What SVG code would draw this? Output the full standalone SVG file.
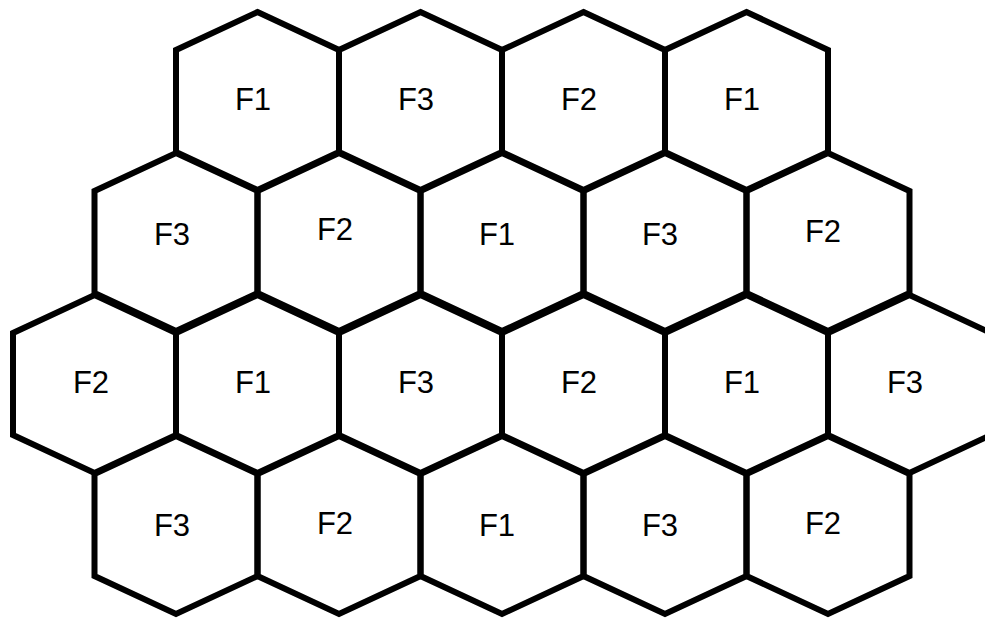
<svg xmlns="http://www.w3.org/2000/svg" width="985" height="619" viewBox="0 0 985 619">
<style>
.hex{fill:none;stroke:#000;stroke-width:6;stroke-linejoin:miter}
.lbl{font-family:"Liberation Sans",Arial,sans-serif;font-size:31px;fill:#000;text-anchor:middle}
</style>
<defs>
<polygon id="h" points="0,-89 81.5,-51 81.5,51 0,89 -81.5,51 -81.5,-51"/>
</defs>
<rect width="985" height="619" fill="#fff"/>
<g id="connectors"></g>
<!-- Row 1 -->
<g id="r1c1"><use href="#h" class="hex" x="257.5" y="101"/><text class="lbl" x="253" y="110">F1</text></g>
<g id="r1c2"><use href="#h" class="hex" x="420.5" y="101"/><text class="lbl" x="416" y="110">F3</text></g>
<g id="r1c3"><use href="#h" class="hex" x="583.5" y="101"/><text class="lbl" x="579" y="110">F2</text></g>
<g id="r1c4"><use href="#h" class="hex" x="746.5" y="101"/><text class="lbl" x="742" y="110">F1</text></g>
<!-- Row 2 -->
<g id="r2c1"><use href="#h" class="hex" x="176" y="242"/><text class="lbl" x="172" y="245">F3</text></g>
<g id="r2c2"><use href="#h" class="hex" x="339" y="242"/><text class="lbl" x="335" y="240">F2</text></g>
<g id="r2c3"><use href="#h" class="hex" x="502" y="242"/><text class="lbl" x="497" y="245">F1</text></g>
<g id="r2c4"><use href="#h" class="hex" x="665" y="242"/><text class="lbl" x="660" y="245">F3</text></g>
<g id="r2c5"><use href="#h" class="hex" x="828" y="242"/><text class="lbl" x="823" y="242">F2</text></g>
<!-- Row 3 -->
<g id="r3c1"><use href="#h" class="hex" x="94.5" y="384"/><text class="lbl" x="91" y="393">F2</text></g>
<g id="r3c2"><use href="#h" class="hex" x="257.5" y="384"/><text class="lbl" x="253" y="393">F1</text></g>
<g id="r3c3"><use href="#h" class="hex" x="420.5" y="384"/><text class="lbl" x="416" y="393">F3</text></g>
<g id="r3c4"><use href="#h" class="hex" x="583.5" y="384"/><text class="lbl" x="579" y="393">F2</text></g>
<g id="r3c5"><use href="#h" class="hex" x="746.5" y="384"/><text class="lbl" x="742" y="393">F1</text></g>
<g id="r3c6"><use href="#h" class="hex" x="909.5" y="384"/><text class="lbl" x="905" y="393">F3</text></g>
<!-- Row 4 -->
<g id="r4c1"><use href="#h" class="hex" x="176" y="525"/><text class="lbl" x="172" y="536">F3</text></g>
<g id="r4c2"><use href="#h" class="hex" x="339" y="525"/><text class="lbl" x="335" y="534">F2</text></g>
<g id="r4c3"><use href="#h" class="hex" x="502" y="525"/><text class="lbl" x="497" y="536">F1</text></g>
<g id="r4c4"><use href="#h" class="hex" x="665" y="525"/><text class="lbl" x="660" y="536">F3</text></g>
<g id="r4c5"><use href="#h" class="hex" x="828" y="525"/><text class="lbl" x="823" y="534">F2</text></g>
</svg>
